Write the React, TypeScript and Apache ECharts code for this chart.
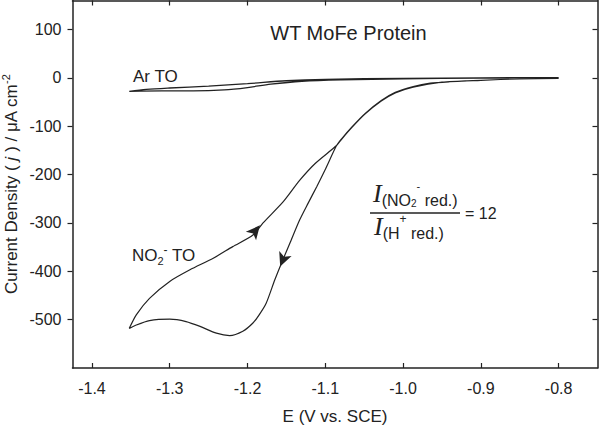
import React, { useEffect, useRef } from "react";
import * as echarts from "echarts";

// Ar turnover (blank) CV loop: cathodic sweep then return
const arX = [-0.8, -0.9, -1.0, -1.08, -1.13, -1.17, -1.2, -1.23, -1.27, -1.31, -1.352, -1.33, -1.3, -1.25, -1.2, -1.15, -1.1, -1.0, -0.9, -0.8];
const arY = [0, -0.5, -2, -4, -7, -13, -20, -25, -27, -27, -28, -24, -21, -17, -12, -6, -3, -1, 0, 0.5];

// NO2- turnover CV loop
const no2X = [
  -0.8, -0.85, -0.9, -0.94, -0.965, -0.987, -1.01, -1.028, -1.049, -1.066, -1.079, -1.0855, -1.1005, -1.111, -1.122, -1.133,
  -1.145, -1.155, -1.165, -1.176, -1.185, -1.193, -1.206, -1.223, -1.24, -1.261, -1.279, -1.3, -1.326, -1.343, -1.352,
  -1.343, -1.326, -1.3, -1.274, -1.244, -1.219, -1.193, -1.18, -1.154, -1.133, -1.113, -1.0855, -1.079, -1.066, -1.049,
  -1.028, -1.01, -0.987, -0.95, -0.9, -0.85, -0.8,
];
const no2Y = [
  -1, -2, -5, -8, -11, -18, -30, -47, -74, -102, -126, -140, -191, -225, -259, -294,
  -340, -378, -418, -466, -490, -507, -524, -533, -528, -514, -504, -499, -502, -511, -518,
  -490, -456, -421, -397, -373, -349, -325, -300, -256, -212, -177, -140, -127, -103, -75,
  -48, -31, -19, -9, -5, -2, -1,
];

// sweep-direction arrows on the NO2- loop
const arrowX = [-1.184, -1.158];
const arrowY = [-305, -390];
const arrowRot = [-40, 158];

const xTicks = [-1.4, -1.3, -1.2, -1.1, -1.0, -0.9, -0.8];
const yTicks = [100, 0, -100, -200, -300, -400, -500];

const FONT = "'Liberation Sans', Arial, Helvetica, sans-serif";
const SERIF = "'Liberation Serif', 'Times New Roman', serif";
const INK = "#222";

export default function App() {
  const ref = useRef<HTMLDivElement>(null);
  useEffect(() => {
    if (!ref.current) return;
    const chart = echarts.init(ref.current, null, { renderer: "svg" });
    const zip = (xs: number[], ys: number[]) => xs.map((x, i) => [x, ys[i]]);
    const xBase = {
      type: "value" as const,
      min: -1.425,
      max: -0.75,
      splitLine: { show: false },
      axisLine: { show: true, onZero: false, lineStyle: { color: INK, width: 1.5 } },
    };
    const yBase = {
      type: "value" as const,
      min: -600,
      max: 160,
      splitLine: { show: false },
      axisLine: { show: true, onZero: false, lineStyle: { color: INK, width: 1.5 } },
    };
    chart.setOption({
      animation: false,
      backgroundColor: "#fff",
      textStyle: { fontFamily: FONT },
      grid: { left: 72.5, right: 2.5, top: 0.5, bottom: 57, containLabel: false, outerBoundsMode: "none" },
      xAxis: [
        {
          ...xBase,
          position: "bottom",
          name: "E (V vs. SCE)",
          nameLocation: "middle",
          nameGap: 40,
          nameTextStyle: { fontSize: 17, color: INK, fontFamily: FONT },
          axisTick: { show: true, inside: true, length: 5, customValues: xTicks, lineStyle: { color: INK, width: 1.2 } },
          axisLabel: { show: true, customValues: xTicks, margin: 12, fontSize: 16, color: INK, fontFamily: FONT, formatter: (v: number) => v.toFixed(1) },
        },
        {
          ...xBase,
          position: "top",
          axisTick: { show: true, inside: true, length: 5, customValues: xTicks, lineStyle: { color: INK, width: 1.2 } },
          axisLabel: { show: false },
        },
      ],
      yAxis: [
        {
          ...yBase,
          position: "left",
          axisTick: { show: true, inside: false, length: 5, customValues: yTicks, lineStyle: { color: INK, width: 1.2 } },
          axisLabel: { show: true, customValues: yTicks, margin: 11, fontSize: 16, color: INK, fontFamily: FONT },
        },
        {
          ...yBase,
          position: "right",
          axisTick: { show: true, inside: true, length: 5, customValues: yTicks, lineStyle: { color: INK, width: 1.2 } },
          axisLabel: { show: false },
        },
      ],
      series: [
        {
          type: "line",
          data: zip(arX, arY),
          smooth: 0.3,
          symbol: "none",
          lineStyle: { color: INK, width: 1.3 },
        },
        {
          type: "line",
          data: zip(no2X, no2Y),
          smooth: 0.25,
          symbol: "none",
          lineStyle: { color: INK, width: 1.2 },
          markPoint: {
            symbol: "arrow",
            symbolSize: [10, 14],
            label: { show: false },
            itemStyle: { color: INK },
            data: arrowX.map((x, i) => ({ coord: [x, arrowY[i]], symbolRotate: arrowRot[i] })),
          },
        },
      ],
      graphic: [
        {
          type: "text",
          x: 348.5,
          y: 33,
          style: { text: "WT MoFe Protein", font: `20px ${FONT}`, fill: INK, align: "center", verticalAlign: "middle" },
        },
        {
          type: "text",
          x: 133,
          y: 76,
          style: { text: "Ar TO", font: `17px ${FONT}`, fill: INK, align: "left", verticalAlign: "middle" },
        },
        {
          type: "text",
          x: 132,
          y: 255,
          style: {
            text: "{a|NO}{b|2}{c|-}{a| TO}",
            fill: INK,
            align: "left",
            verticalAlign: "middle",
            rich: {
              a: { fontSize: 17, fontFamily: FONT, fill: INK, lineHeight: 22 },
              b: { fontSize: 11, fontFamily: FONT, fill: INK, verticalAlign: "bottom", lineHeight: 14 },
              c: { fontSize: 12, fontFamily: FONT, fill: INK, verticalAlign: "top", lineHeight: 12 },
            },
          },
        },
        {
          type: "text",
          x: 11,
          y: 184,
          rotation: Math.PI / 2,
          style: {
            text: "{a|Current Density ( }{i|j}{a| ) / μA cm}{s|-2}",
            fill: INK,
            align: "center",
            verticalAlign: "middle",
            rich: {
              a: { fontSize: 17, fontFamily: FONT, fill: INK, lineHeight: 22 },
              i: { fontSize: 17, fontFamily: FONT, fontStyle: "italic", fill: INK, lineHeight: 22 },
              s: { fontSize: 11, fontFamily: FONT, fill: INK, verticalAlign: "top", lineHeight: 11 },
            },
          },
        },
        {
          type: "text",
          x: 373,
          y: 194,
          style: {
            text: "{I|I}{a|(NO}{b|2}{c|-}{a| red.)}",
            fill: INK,
            align: "left",
            verticalAlign: "middle",
            rich: {
              I: { fontSize: 26, fontFamily: SERIF, fontStyle: "italic", fill: INK, lineHeight: 28, verticalAlign: "top" },
              a: { fontSize: 16, fontFamily: FONT, fill: INK, verticalAlign: "bottom", lineHeight: 18 },
              b: { fontSize: 10, fontFamily: FONT, fill: INK, verticalAlign: "bottom", lineHeight: 10 },
              c: { fontSize: 11, fontFamily: FONT, fill: INK, verticalAlign: "top", lineHeight: 20 },
            },
          },
        },
        {
          type: "line",
          shape: { x1: 370, y1: 213, x2: 460, y2: 213 },
          style: { stroke: INK, lineWidth: 1.3 },
        },
        {
          type: "text",
          x: 465,
          y: 213,
          style: { text: "= 12", font: `16px ${FONT}`, fill: INK, align: "left", verticalAlign: "middle" },
        },
        {
          type: "text",
          x: 374,
          y: 227,
          style: {
            text: "{I|I}{a|(H}{c|+}{a| red.)}",
            fill: INK,
            align: "left",
            verticalAlign: "middle",
            rich: {
              I: { fontSize: 26, fontFamily: SERIF, fontStyle: "italic", fill: INK, lineHeight: 28, verticalAlign: "top" },
              a: { fontSize: 16, fontFamily: FONT, fill: INK, verticalAlign: "bottom", lineHeight: 18 },
              c: { fontSize: 12, fontFamily: FONT, fill: INK, verticalAlign: "top", lineHeight: 28 },
            },
          },
        },
      ],
    });
    return () => chart.dispose();
  }, []);
  return (
    <div
      ref={ref}
      style={{ position: "fixed", left: 0, top: 0, width: 600, height: 425, background: "#fff" }}
    />
  );
}
